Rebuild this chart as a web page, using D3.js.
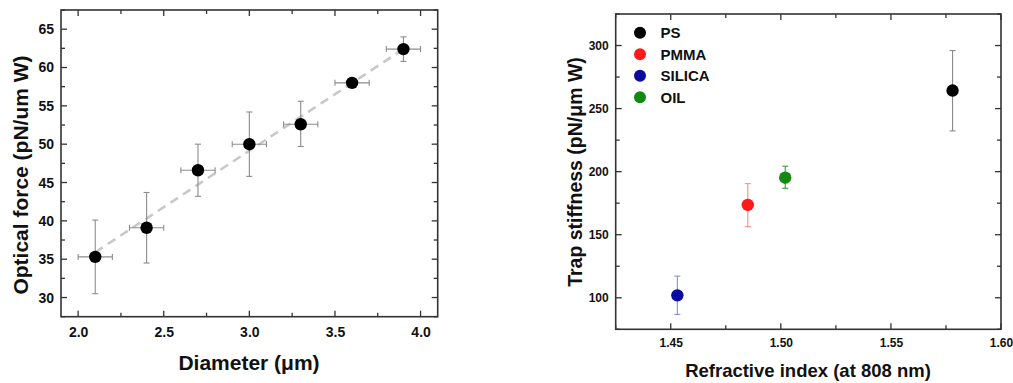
<!DOCTYPE html>
<html><head><meta charset="utf-8">
<script src="https://cdn.jsdelivr.net/npm/d3@7"></script>
<style>
html,body{margin:0;padding:0;background:#fff;}
svg text{font-family:"Liberation Sans",Arial,sans-serif;font-weight:bold;fill:#111;}
</style></head>
<body>
<svg id="chart" width="1013" height="383"></svg>
<script>
// ---- Left panel data ----
const diameters = [2.1, 2.4, 2.7, 3.0, 3.3, 3.6, 3.9];
const diameterErr = [0.1, 0.1, 0.1, 0.1, 0.1, 0.1, 0.1];
const force = [35.3, 39.1, 46.6, 50.0, 52.6, 58.0, 62.4];
const forceLow = [30.5, 34.5, 43.2, 45.8, 49.7, 57.5, 60.8];
const forceHigh = [40.1, 43.7, 50.0, 54.2, 55.6, 58.6, 64.0];
const fitX = [2.1, 3.9];
const fitY = [35.9, 62.4];
const leftXTicks = [2.0, 2.5, 3.0, 3.5, 4.0];
const leftYTicks = [30, 35, 40, 45, 50, 55, 60, 65];

// ---- Right panel data ----
const materials = ["PS", "PMMA", "SILICA", "OIL"];
const refractiveIndex = [1.578, 1.485, 1.453, 1.502];
const stiffness = [264.3, 173.6, 101.9, 195.2];
const stiffLow = [232.3, 156.4, 86.8, 186.8];
const stiffHigh = [296.0, 190.5, 117.2, 204.3];
const rightXTicks = [1.45, 1.50, 1.55, 1.60];
const rightYTicks = [100, 150, 200, 250, 300];

const matColors = ["#000000", "#ff1a1a", "#0a0aa0", "#128a12"];
const matErrColors = ["#8a8a8a", "#ff8a8a", "#8a8ae6", "#3a9a3a"];

const svg = d3.select("#chart");
svg.append("rect").attr("width", 1013).attr("height", 383).attr("fill", "#fff");

function frame(g, x, y, xMajor, xMinorStep, yMajor, yMinorStep, xFmt, yFmt, tickFont) {
  const [x0, x1] = x.range(), [y0, y1] = y.range();
  const xd = x.domain(), yd = y.domain();
  const axisColor = "#333";
  const minorX = d3.range(Math.ceil(xd[0] / xMinorStep - 1e-6), Math.floor(xd[1] / xMinorStep + 1e-6) + 1).map(k => +(k * xMinorStep).toFixed(4));
  const minorY = d3.range(Math.ceil(yd[0] / yMinorStep - 1e-6), Math.floor(yd[1] / yMinorStep + 1e-6) + 1).map(k => +(k * yMinorStep).toFixed(4));
  const isMajor = (v, arr) => arr.some(a => Math.abs(a - v) < 1e-6);
  // bottom/top axes via d3 axis (inward ticks)
  const bottom = g.append("g").attr("transform", `translate(0,${y0})`)
    .call(d3.axisBottom(x).tickValues(minorX).tickSize(0).tickFormat(""));
  bottom.select(".domain").remove();
  minorX.forEach(v => {
    const L = isMajor(v, xMajor) ? 6 : 4;
    g.append("line").attr("x1", x(v)).attr("x2", x(v)).attr("y1", y0).attr("y2", y0 - L).attr("stroke", axisColor).attr("stroke-width", 1.3);
    g.append("line").attr("x1", x(v)).attr("x2", x(v)).attr("y1", y1).attr("y2", y1 + L).attr("stroke", axisColor).attr("stroke-width", 1.3);
  });
  minorY.forEach(v => {
    const L = isMajor(v, yMajor) ? 6 : 4;
    g.append("line").attr("y1", y(v)).attr("y2", y(v)).attr("x1", x0).attr("x2", x0 + L).attr("stroke", axisColor).attr("stroke-width", 1.3);
    g.append("line").attr("y1", y(v)).attr("y2", y(v)).attr("x1", x1).attr("x2", x1 - L).attr("stroke", axisColor).attr("stroke-width", 1.3);
  });
  const xa = g.append("g").attr("transform", `translate(0,${y0})`)
    .call(d3.axisBottom(x).tickValues(xMajor).tickSize(0).tickPadding(tickFont.xPad).tickFormat(xFmt));
  xa.select(".domain").remove();
  xa.selectAll("text").attr("font-size", tickFont.size).attr("fill", "#111").style("font-family", "Liberation Sans, Arial, sans-serif").style("font-weight", "bold");
  const ya = g.append("g").attr("transform", `translate(${x0},0)`)
    .call(d3.axisLeft(y).tickValues(yMajor).tickSize(0).tickPadding(tickFont.yPad).tickFormat(yFmt));
  ya.select(".domain").remove();
  ya.selectAll("text").attr("font-size", tickFont.size).attr("fill", "#111").style("font-family", "Liberation Sans, Arial, sans-serif").style("font-weight", "bold");
  g.append("rect").attr("x", x0).attr("y", y1).attr("width", x1 - x0).attr("height", y0 - y1)
    .attr("fill", "none").attr("stroke", axisColor).attr("stroke-width", 1.6);
}

// ================= Left panel =================
{
  const x = d3.scaleLinear().domain([1.9, 4.1]).range([61, 437.7]);
  const y = d3.scaleLinear().domain([27.5, 67.5]).range([316.7, 10]);
  const g = svg.append("g");
  frame(g, x, y, leftXTicks, 0.25, leftYTicks, 2.5, d3.format(".1f"), d3.format("d"), {size: 14, xPad: 10, yPad: 7});

  // fit line
  g.append("path")
    .datum(fitX.map((v, i) => [v, fitY[i]]))
    .attr("d", d3.line().x(d => x(d[0])).y(d => y(d[1])))
    .attr("fill", "none").attr("stroke", "#c8c8c8").attr("stroke-width", 2.6).attr("stroke-dasharray", "9,6");

  const pts = diameters.map((d, i) => ({x: d, y: force[i], xe: diameterErr[i], lo: forceLow[i], hi: forceHigh[i]}));
  const eb = g.append("g").attr("stroke", "#8c8c8c").attr("stroke-width", 1.1);
  const cap = 3;
  pts.forEach(p => {
    eb.append("line").attr("x1", x(p.x)).attr("x2", x(p.x)).attr("y1", y(p.lo)).attr("y2", y(p.hi));
    eb.append("line").attr("x1", x(p.x) - cap).attr("x2", x(p.x) + cap).attr("y1", y(p.lo)).attr("y2", y(p.lo));
    eb.append("line").attr("x1", x(p.x) - cap).attr("x2", x(p.x) + cap).attr("y1", y(p.hi)).attr("y2", y(p.hi));
    eb.append("line").attr("x1", x(p.x - p.xe)).attr("x2", x(p.x + p.xe)).attr("y1", y(p.y)).attr("y2", y(p.y));
    eb.append("line").attr("x1", x(p.x - p.xe)).attr("x2", x(p.x - p.xe)).attr("y1", y(p.y) - cap).attr("y2", y(p.y) + cap);
    eb.append("line").attr("x1", x(p.x + p.xe)).attr("x2", x(p.x + p.xe)).attr("y1", y(p.y) - cap).attr("y2", y(p.y) + cap);
  });
  g.selectAll("circle.pt").data(pts).join("circle").attr("class", "pt")
    .attr("cx", d => x(d.x)).attr("cy", d => y(d.y)).attr("r", 6.2).attr("fill", "#000");

  g.append("text").attr("x", 249).attr("y", 370).attr("text-anchor", "middle").attr("font-size", 21)
    .text("Diameter (\u03bcm)");
  g.append("text").attr("transform", "translate(28,175) rotate(-90)").attr("text-anchor", "middle").attr("font-size", 21)
    .text("Optical force (pN/um W)");
}

// ================= Right panel =================
{
  const x = d3.scaleLinear().domain([1.425, 1.60]).range([615.7, 1001]);
  const y = d3.scaleLinear().domain([75, 325]).range([329.3, 14]);
  const g = svg.append("g");
  frame(g, x, y, rightXTicks, 0.025, rightYTicks, 25, d3.format(".2f"), d3.format("d"), {size: 12, xPad: 9, yPad: 7});

  const pts = materials.map((m, i) => ({m, x: refractiveIndex[i], y: stiffness[i], lo: stiffLow[i], hi: stiffHigh[i], c: matColors[i], ec: matErrColors[i]}));
  const cap = 3;
  pts.forEach(p => {
    const e = g.append("g").attr("stroke", p.ec).attr("stroke-width", 1.1);
    e.append("line").attr("x1", x(p.x)).attr("x2", x(p.x)).attr("y1", y(p.lo)).attr("y2", y(p.hi));
    e.append("line").attr("x1", x(p.x) - cap).attr("x2", x(p.x) + cap).attr("y1", y(p.lo)).attr("y2", y(p.lo));
    e.append("line").attr("x1", x(p.x) - cap).attr("x2", x(p.x) + cap).attr("y1", y(p.hi)).attr("y2", y(p.hi));
  });
  g.selectAll("circle.pt").data(pts).join("circle").attr("class", "pt")
    .attr("cx", d => x(d.x)).attr("cy", d => y(d.y)).attr("r", 6.2).attr("fill", d => d.c);

  // legend
  const leg = g.append("g");
  pts.forEach((p, i) => {
    leg.append("circle").attr("cx", 640).attr("cy", 32.7 + i * 21.5).attr("r", 6).attr("fill", p.c);
    leg.append("text").attr("x", 660.5).attr("y", 32.7 + i * 21.5 + 5.5).attr("font-size", 15).text(p.m);
  });

  g.append("text").attr("x", 808).attr("y", 377).attr("text-anchor", "middle").attr("font-size", 18.5)
    .text("Refractive index (at 808 nm)");
  g.append("text").attr("transform", "translate(582,172) rotate(-90)").attr("text-anchor", "middle").attr("font-size", 19.5)
    .text("Trap stiffness (pN/\u03bcm W)");
}
</script>
</body></html>
